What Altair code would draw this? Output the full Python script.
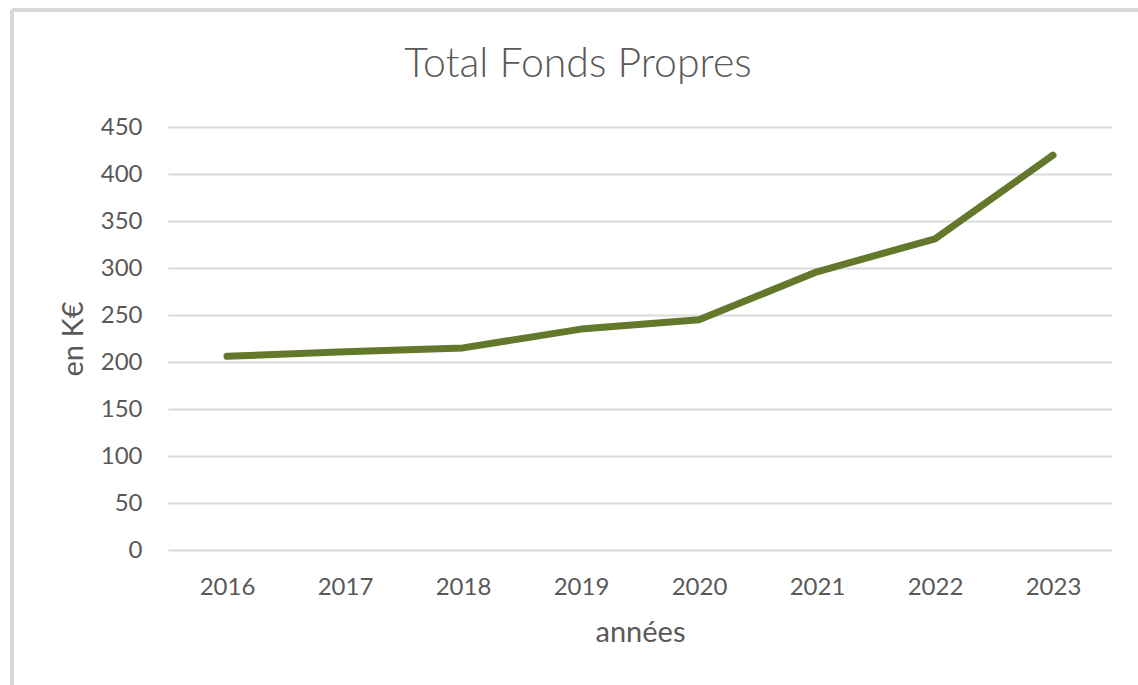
import altair as alt
import pandas as pd

years = ["2016", "2017", "2018", "2019", "2020", "2021", "2022", "2023"]
values = [206, 211, 215, 235, 245, 296, 331, 420]
chart_title = "Total Fonds Propres"

df = pd.DataFrame({"année": years, "valeur": values})

FONT = "Lato"
TXT = "#595959"
GRID = "#d9d9d9"

W, H = 944, 423
PL, PT, PR, PB = 168, 127, 26, 135

base = alt.Chart(df)

line = base.mark_line(color="#64782c", strokeWidth=7, strokeCap="round", strokeJoin="round").encode(
    x=alt.X("année:O", sort=years,
            scale=alt.Scale(paddingInner=0, paddingOuter=0.5, align=0.5),
            axis=alt.Axis(title="années", labelAngle=0, labelFontSize=24, labelColor=TXT,
                          labelFont=FONT, labelPadding=25, titleFont=FONT, titleFontSize=29,
                          titleFontWeight="normal", titleColor=TXT, titlePadding=19,
                          domain=False, ticks=False, grid=False)),
    y=alt.Y("valeur:Q", scale=alt.Scale(domain=[0, 450], nice=False),
            axis=alt.Axis(title="en K€", values=list(range(0, 451, 50)), labelFontSize=24,
                          labelColor=TXT, labelFont=FONT, labelPadding=26, titleFont=FONT,
                          titleFontSize=29, titleFontWeight="normal", titleColor=TXT,
                          titlePadding=12, domain=False, ticks=False, gridColor=GRID,
                          gridWidth=2)),
)

title_df = pd.DataFrame({"t": [chart_title]})
title = alt.Chart(title_df).mark_text(font=FONT, fontSize=41, fontWeight=300, color=TXT,
                                      align="center", baseline="alphabetic").encode(
    text="t:N", x=alt.value(578 - PL), y=alt.value(77 - PT)
)

top_border = alt.Chart(df).mark_rule(color=GRID, strokeWidth=3).encode(
    x=alt.value(12 - PL), x2=alt.value(1138 - PL + 10), y=alt.value(10 - PT)
)
left_border = alt.Chart(df).mark_rule(color=GRID, strokeWidth=3).encode(
    x=alt.value(12 - PL), y=alt.value(10 - PT), y2=alt.value(685 - PT + 10)
)

chart = alt.layer(line, title, top_border, left_border).properties(
    width=W, height=H,
    autosize=alt.AutoSizeParams(type="none"),
    padding={"left": PL, "top": PT, "right": PR, "bottom": PB},
    background="white",
).configure_view(stroke=None)

chart.save("out.html", embed_options={"renderer": "svg", "actions": False})
